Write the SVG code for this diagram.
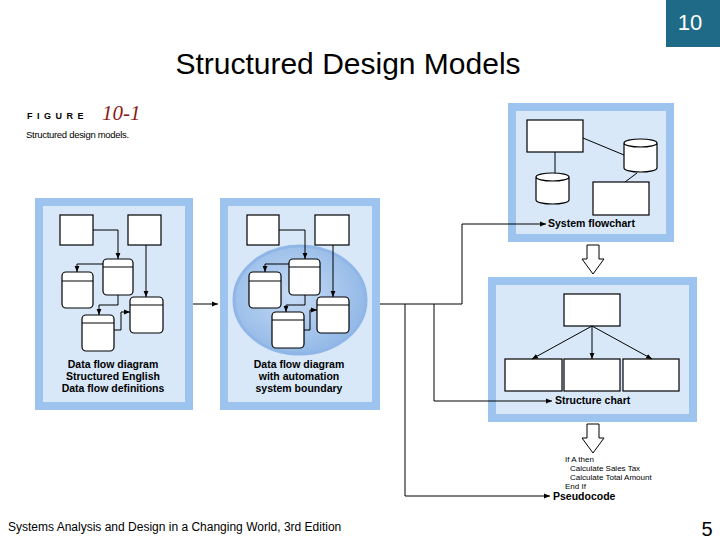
<svg xmlns="http://www.w3.org/2000/svg" width="720" height="540" viewBox="0 0 720 540">
<style>
.outer{fill:#9cc4ee}
.inner{fill:#d8e8f9}
.b{fill:#fff;stroke:#000;stroke-width:1.2}
.ln{fill:none;stroke:#000;stroke-width:1}
.lbl{font-family:"Liberation Sans",Arial,sans-serif;font-weight:bold;font-size:10.5px;fill:#000}
.code{font-family:"Liberation Sans",Arial,sans-serif;font-size:8px;fill:#000}
</style>
<defs>
<marker id="ah" viewBox="0 0 10 10" refX="10" refY="5" markerWidth="6" markerHeight="6" orient="auto"><path d="M0,1 L10,5 L0,9 z" fill="#000"/></marker>
<radialGradient id="eg" cx="0.45" cy="0.45" r="0.6"><stop offset="0" stop-color="#c7dcf5"/><stop offset="1" stop-color="#8fb6e6"/></radialGradient>
</defs>
<rect width="720" height="540" fill="#fff"/>
<g id="pagebox"><rect x="666" y="0" width="54" height="47" fill="#1f6a87"/><text x="690" y="30" font-family="Liberation Sans,Arial,sans-serif" font-size="22" fill="#fff" text-anchor="middle">10</text></g>
<text x="348" y="74" font-family="Liberation Sans,Arial,sans-serif" font-size="30" text-anchor="middle">Structured Design Models</text>
<g id="figcap">
<text x="27" y="119" font-family="Liberation Sans,Arial,sans-serif" font-size="9" font-weight="bold" letter-spacing="4.5">FIGURE</text>
<text x="102" y="120" font-family="Liberation Serif,serif" font-style="italic" font-size="21" fill="#8b1a1a">10-1</text>
<text x="26" y="138" font-family="Liberation Sans,Arial,sans-serif" font-size="9.5" letter-spacing="-0.3">Structured design models.</text>
</g>
<g id="panel1">
<rect class="outer" x="35" y="198" width="158" height="212"/>
<rect class="inner" x="43" y="206" width="142" height="196"/>
<rect class="b" x="60" y="215" width="33" height="30"/>
<rect class="b" x="128" y="215" width="33" height="30"/>
<rect class="b" x="103" y="259" width="30" height="36" rx="4"/><line class="ln" x1="103" y1="267" x2="133" y2="267"/>
<rect class="b" x="62" y="272" width="31" height="36" rx="4"/><line class="ln" x1="62" y1="281" x2="93" y2="281"/>
<rect class="b" x="130" y="297" width="33" height="36" rx="4"/><line class="ln" x1="130" y1="305" x2="163" y2="305"/>
<rect class="b" x="82" y="315" width="32" height="36" rx="4"/><line class="ln" x1="82" y1="323" x2="114" y2="323"/>
<path class="ln" d="M93,230 H118 V259" marker-end="url(#ah)"/>
<path class="ln" d="M103,264 H77 V272" marker-end="url(#ah)"/>
<path class="ln" d="M146,245 V297" marker-end="url(#ah)"/>
<path class="ln" d="M118,295 V305 H99 V315" marker-end="url(#ah)"/>
<path class="ln" d="M114,330 H121 V312 H130" marker-end="url(#ah)"/>
<text class="lbl" x="113" y="368" text-anchor="middle">Data flow diagram</text>
<text class="lbl" x="113" y="380" text-anchor="middle">Structured English</text>
<text class="lbl" x="113" y="392" text-anchor="middle">Data flow definitions</text>
</g>
<g id="panel2">
<rect class="outer" x="220" y="198" width="160" height="212"/>
<rect class="inner" x="228" y="206" width="144" height="196"/>
<ellipse cx="300" cy="300" rx="66" ry="54" fill="url(#eg)" stroke="#8fb6e6" stroke-width="3"/>
<rect class="b" x="247" y="215" width="32" height="30"/>
<rect class="b" x="315" y="215" width="34" height="30"/>
<rect class="b" x="289" y="259" width="31" height="36" rx="4"/><line class="ln" x1="289" y1="267" x2="320" y2="267"/>
<rect class="b" x="249" y="272" width="32" height="36" rx="4"/><line class="ln" x1="249" y1="281" x2="281" y2="281"/>
<rect class="b" x="317" y="297" width="32" height="36" rx="4"/><line class="ln" x1="317" y1="305" x2="349" y2="305"/>
<rect class="b" x="272" y="312" width="32" height="36" rx="4"/><line class="ln" x1="272" y1="320" x2="304" y2="320"/>
<path class="ln" d="M279,230 H305 V259" marker-end="url(#ah)"/>
<path class="ln" d="M289,264 H265 V272" marker-end="url(#ah)"/>
<path class="ln" d="M333,245 V297" marker-end="url(#ah)"/>
<path class="ln" d="M305,295 V305 H286 V312" marker-end="url(#ah)"/>
<path class="ln" d="M304,330 H310 V310 H317" marker-end="url(#ah)"/>
<text class="lbl" x="299" y="368" text-anchor="middle">Data flow diagram</text>
<text class="lbl" x="299" y="380" text-anchor="middle">with automation</text>
<text class="lbl" x="299" y="392" text-anchor="middle">system boundary</text>
</g>
<g id="panel3">
<rect class="outer" x="508" y="103" width="166" height="139"/>
<rect class="inner" x="516" y="111" width="150" height="123"/>
<line class="ln" x1="555" y1="152" x2="555" y2="176"/>
<line class="ln" x1="583" y1="138" x2="624" y2="155"/>
<line class="ln" x1="637" y1="173" x2="625" y2="182"/>
<rect class="b" x="527" y="120" width="56" height="32"/>
<path class="b" d="M624,143 V168 A16.5,4 0 0 0 657,168 V143 A16.5,4 0 0 0 624,143 A16.5,4 0 0 0 657,143"/>
<path class="b" d="M536,177 V200 A16.5,4 0 0 0 569,200 V177 A16.5,4 0 0 0 536,177 A16.5,4 0 0 0 569,177"/>
<rect class="b" x="593" y="182" width="56" height="33"/>
<text class="lbl" x="548" y="227">System flowchart</text>
</g>
<g id="arrow1"><path d="M587,245 H599 V259 H604 L593,274 L582,259 H587 Z" fill="#fff" stroke="#000"/></g>
<g id="panel4">
<rect class="outer" x="488" y="277" width="209" height="145"/>
<rect class="inner" x="496" y="285" width="193" height="129"/>
<rect class="b" x="564" y="294" width="56" height="32"/>
<rect class="b" x="505" y="359" width="57" height="32"/>
<rect class="b" x="564" y="359" width="56" height="32"/>
<rect class="b" x="623" y="359" width="56" height="32"/>
<path class="ln" d="M592,326 L532,359" marker-end="url(#ah)"/>
<path class="ln" d="M592,326 V359" marker-end="url(#ah)"/>
<path class="ln" d="M592,326 L652,359" marker-end="url(#ah)"/>
<text class="lbl" x="555" y="404">Structure chart</text>
</g>
<g id="arrow2"><path d="M587,424 H599 V438 H604 L593,453 L582,438 H587 Z" fill="#fff" stroke="#000"/></g>
<g id="pseudo">
<text class="code" x="565" y="462">If A then</text>
<text class="code" x="570" y="471">Calculate Sales Tax</text>
<text class="code" x="570" y="480">Calculate Total Amount</text>
<text class="code" x="565" y="489">End If</text>
<text class="lbl" x="553" y="500">Pseudocode</text>
</g>
<g id="connectors">
<path class="ln" d="M193,304 H218" marker-end="url(#ah)" stroke="#555"/>
<path class="ln" d="M380,304 H462 V224 H546" marker-end="url(#ah)" stroke-width="1.3"/>
<path class="ln" d="M405,304 V496 H550" marker-end="url(#ah)" stroke-width="1.3"/>
<path class="ln" d="M434,304 V401 H552" marker-end="url(#ah)" stroke="#777"/>
</g>
<text x="8" y="531" font-family="Liberation Sans,Arial,sans-serif" font-size="12">Systems Analysis and Design in a Changing World, 3rd Edition</text>
<text x="707" y="536" font-family="Liberation Sans,Arial,sans-serif" font-size="20" text-anchor="middle">5</text>
</svg>
